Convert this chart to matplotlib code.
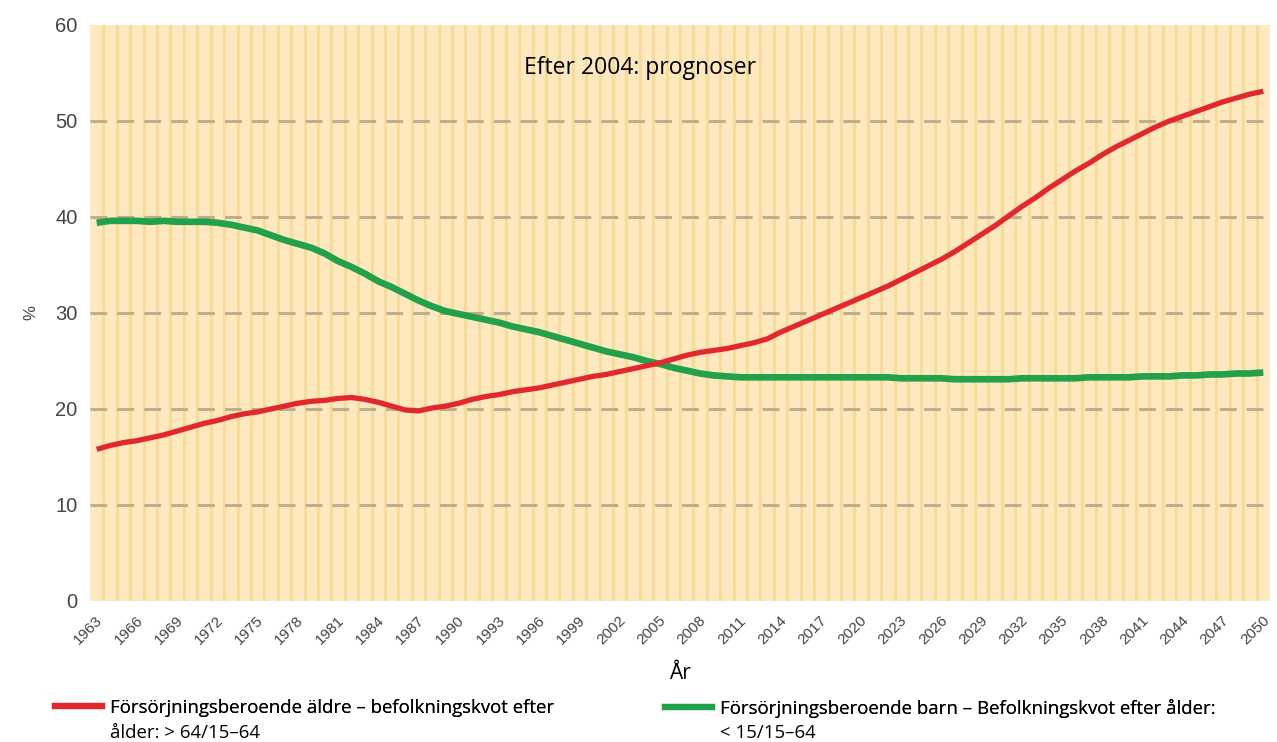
# Försörjningskvoter 1963-2050, äldre och barn i förhållande till 15-64 år

import numpy as np
import matplotlib.pyplot as plt
import matplotlib.transforms as mtrans
from matplotlib.lines import Line2D

years = list(range(1963, 2051))

aldre = [
    15.8, 16.2, 16.5, 16.7, 17.0, 17.3, 17.7, 18.1, 18.5, 18.8,
    19.2, 19.5, 19.7, 20.0, 20.3, 20.6, 20.8, 20.9, 21.1, 21.2,
    21.0, 20.7, 20.3, 19.9, 19.8, 20.1, 20.3, 20.6, 21.0, 21.3,
    21.5, 21.8, 22.0, 22.2, 22.5, 22.8, 23.1, 23.4, 23.6, 23.9,
    24.2, 24.5, 24.8, 25.2, 25.6, 25.9, 26.1, 26.3, 26.6, 26.9,
    27.3, 28.0, 28.6, 29.2, 29.8, 30.4, 31.0, 31.6, 32.2, 32.8,
    33.5, 34.2, 34.9, 35.6, 36.4, 37.3, 38.2, 39.1, 40.1, 41.1,
    42.0, 43.0, 43.9, 44.8, 45.6, 46.5, 47.3, 48.0, 48.7, 49.4,
    50.0, 50.5, 51.0, 51.5, 52.0, 52.4, 52.8, 53.1,
]

barn = [
    39.4, 39.6, 39.6, 39.6, 39.5, 39.6, 39.5, 39.5, 39.5, 39.4,
    39.2, 38.9, 38.6, 38.1, 37.6, 37.2, 36.8, 36.2, 35.4, 34.8,
    34.1, 33.3, 32.7, 32.0, 31.3, 30.7, 30.2, 29.9, 29.6, 29.3,
    29.0, 28.6, 28.3, 28.0, 27.6, 27.2, 26.8, 26.4, 26.0, 25.7,
    25.4, 25.0, 24.7, 24.3, 24.0, 23.7, 23.5, 23.4, 23.3, 23.3,
    23.3, 23.3, 23.3, 23.3, 23.3, 23.3, 23.3, 23.3, 23.3, 23.3,
    23.2, 23.2, 23.2, 23.2, 23.1, 23.1, 23.1, 23.1, 23.1, 23.2,
    23.2, 23.2, 23.2, 23.2, 23.3, 23.3, 23.3, 23.3, 23.4, 23.4,
    23.4, 23.5, 23.5, 23.6, 23.6, 23.7, 23.7, 23.8,
]

tick_years = years[::3]
y_ticks = [0, 10, 20, 30, 40, 50, 60]
grid_levels = [10, 20, 30, 40, 50]

# legend labels: first line next to the key, second line below it
label_aldre = ["Försörjningsberoende äldre – befolkningskvot efter", "ålder: > 64/15–64"]
label_barn = ["Försörjningsberoende barn – Befolkningskvot efter ålder:", "< 15/15–64"]

red = "#e2282c"
green = "#22a14b"
stripe_bg = "#fde8bf"
stripe_line = "#f6dc98"
grid_col = "#bcae8e"
tick_col = "#454545"

W, H = 1277, 742
fig = plt.figure(figsize=(W / 100, H / 100), dpi=100)
ax = fig.add_axes([90 / W, 1 - 601 / H, 1180 / W, 576 / H])
ax.set_facecolor(stripe_bg)

# vertical stripes, one per year
for y in years[:-1]:
    ax.axvline(y + 0.5, color=stripe_line, lw=2.3, zorder=0)

for lev in grid_levels:
    ax.axhline(lev, color=grid_col, lw=2.2, ls=(0, (5.5, 3.3)), zorder=1,
               clip_on=False)

ax.plot(years, barn, color=green, lw=4.8, solid_capstyle="butt", zorder=3)
ax.plot(years, aldre, color=red, lw=3.8, solid_capstyle="butt", zorder=3)

ax.set_xlim(years[0] - 0.5, years[-1] + 0.5)
ax.set_ylim(0, 60)
for s in ax.spines.values():
    s.set_visible(False)

ax.set_yticks(y_ticks)
ax.set_yticklabels([str(v) for v in y_ticks], fontsize=14.5, color=tick_col,
                   family="Liberation Sans")
ax.set_xticks(tick_years)
ax.set_xticklabels([str(v) for v in tick_years], rotation=45, ha="center",
                   fontsize=11, color=tick_col, family="Liberation Sans")
ax.tick_params(axis="both", length=0)
ax.tick_params(axis="y", pad=9)
ax.tick_params(axis="x", pad=9)

# nudge the year labels a little to the left so 2050 stays inside
shift = mtrans.ScaledTranslation(-6 / 72, 0, fig.dpi_scale_trans)
for lbl in ax.get_xticklabels():
    lbl.set_transform(lbl.get_transform() + shift)

ax.set_ylabel("%", fontsize=12, color=tick_col, family="Liberation Sans")
ax.yaxis.set_label_coords(-52 / 1180, 0.5)
ax.set_xlabel("År", fontsize=15, family="Open Sans", va="top")
ax.xaxis.set_label_coords(0.5, (601 - 663) / 576)

ax.text((640 - 90) / 1180, (601 - 68) / 576, "Efter 2004: prognoser",
        transform=ax.transAxes, ha="center", va="center", fontsize=16.5,
        family="Open Sans")

fs = 13.4
leg_prop = {"family": "Open Sans", "size": fs}
legends = []
for col, lab, x0 in [(red, label_aldre, 55), (green, label_barn, 665)]:
    h = Line2D([], [], color=col, lw=4.5)
    leg = fig.legend(handles=[h], labels=[lab[0]], loc="center left",
                     bbox_to_anchor=(x0 / W, 1 - 708 / H), frameon=False,
                     borderpad=0, borderaxespad=0, handlelength=2.5,
                     handletextpad=0.45, prop=leg_prop)
    fig.add_artist(leg)
    legends.append((leg, lab[1]))

fig.canvas.draw()
for leg, second in legends:
    tx = leg.get_texts()[0].get_window_extent().x0
    fig.text(tx / W, 1 - 733 / H, second, ha="left", va="center",
             family="Open Sans", size=fs)

fig.savefig("out.png", dpi=100)
